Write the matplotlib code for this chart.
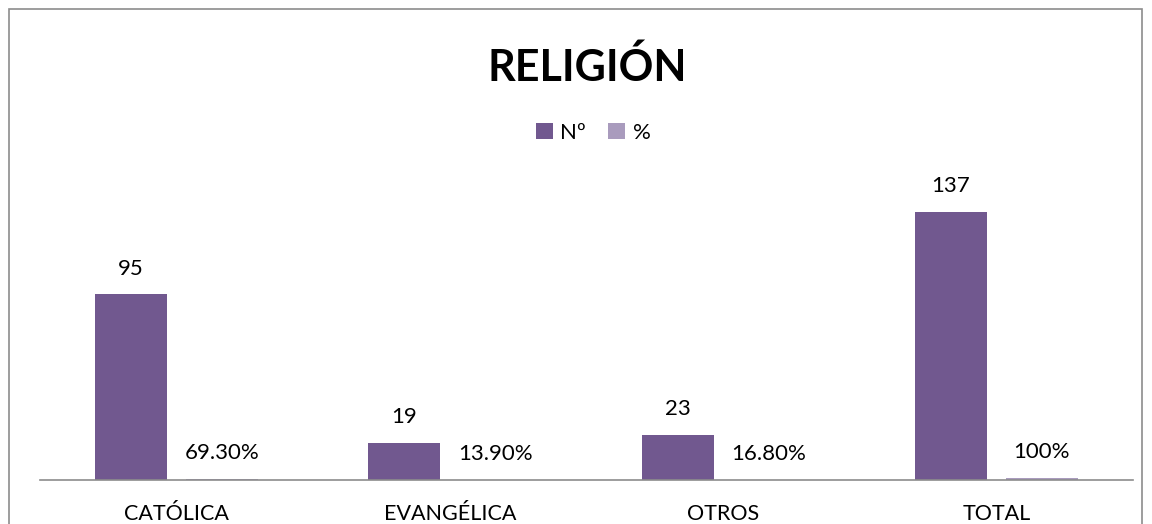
import numpy as np
import matplotlib
matplotlib.use("Agg")
import matplotlib.pyplot as plt
from matplotlib.patches import Rectangle

categories = ["CATÓLICA", "EVANGÉLICA", "OTROS", "TOTAL"]
counts = [95, 19, 23, 137]
percents = [0.693, 0.139, 0.168, 1.0]
count_labels = ["95", "19", "23", "137"]
percent_labels = ["69.30%", "13.90%", "16.80%", "100%"]

plt.rcParams["font.family"] = ["Lato", "DejaVu Sans"]

fig = plt.figure(figsize=(11.52, 5.24), dpi=100)
# outer chart frame (cropped at the bottom like the original)
fig.patches.append(Rectangle((9 / 1152, -0.1), 1133 / 1152, 1.1 - 9 / 524,
                             transform=fig.transFigure, fill=False,
                             edgecolor="#8c8c8c", linewidth=1.2))

ax = fig.add_axes([40 / 1152, 44 / 524, 1093 / 1152, 313 / 524])
x = np.arange(len(categories))
w = 72 / 273.25
gap = 19 / 273.25
off = (w + gap) / 2

b1 = ax.bar(x - off, counts, width=w, color="#71588F", label="Nº")
b2 = ax.bar(x + off, percents, width=w, color="#A99BBD", label="%")

for rect, txt in zip(b1, count_labels):
    ax.text(rect.get_x() + rect.get_width() / 2, rect.get_height() + 8, txt,
            ha="center", va="bottom", fontsize=16)
for rect, txt in zip(b2, percent_labels):
    ax.text(rect.get_x() + rect.get_width() / 2, rect.get_height() + 8, txt,
            ha="center", va="bottom", fontsize=16)

ax.set_xlim(-0.5, len(categories) - 0.5)
ax.set_ylim(0, 160)
ax.set_xticks(x)
ax.set_xticklabels(categories, fontsize=15.5)
ax.tick_params(axis="x", length=0, pad=17)
ax.set_yticks([])
for s in ["top", "right", "left"]:
    ax.spines[s].set_visible(False)
ax.spines["bottom"].set_color("#8c8c8c")
ax.spines["bottom"].set_linewidth(1.2)

fig.text(0.51, 1 - 67 / 524, "RELIGIÓN", ha="center", va="center",
         fontsize=31, fontweight="bold")
fig.legend(handles=[b1, b2], loc="center", bbox_to_anchor=(0.515, 1 - 133 / 524),
           ncol=2, frameon=False, fontsize=16, handlelength=0.75, handleheight=0.75,
           handletextpad=0.35, columnspacing=1.0)

fig.savefig("out.png", dpi=100, facecolor="white")
